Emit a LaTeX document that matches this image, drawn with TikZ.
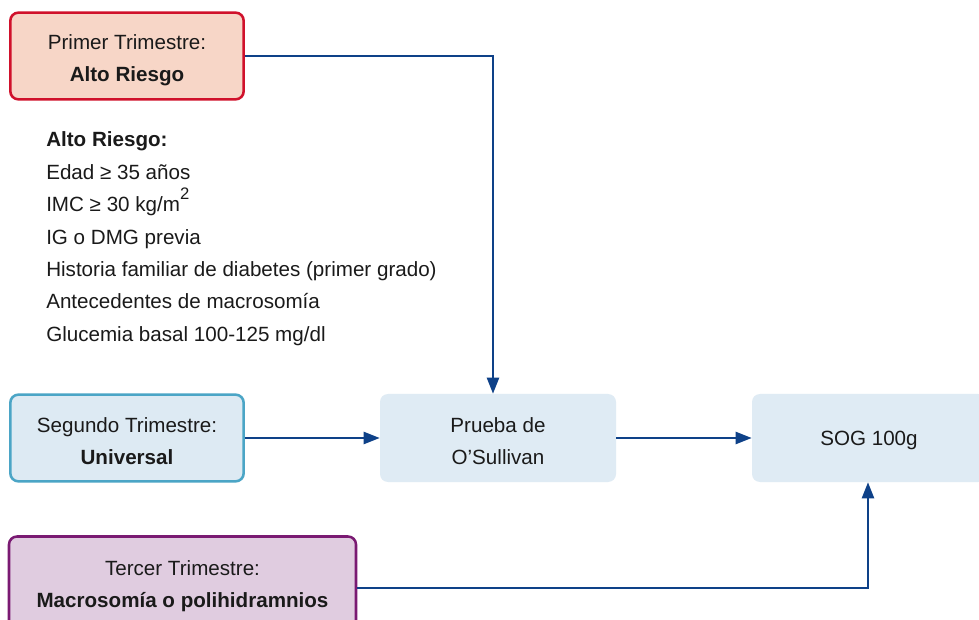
\documentclass[tikz,border=0pt]{standalone}
\usepackage{fontspec}
\setmainfont{Liberation Sans}
\usetikzlibrary{arrows.meta}
\definecolor{arrblue}{HTML}{0E4188}
\definecolor{redb}{HTML}{D0112B}
\definecolor{redf}{HTML}{F7D6C7}
\definecolor{cyanb}{HTML}{4BA5C6}
\definecolor{cyanf}{HTML}{DDEAF3}
\definecolor{boxf}{HTML}{DFEBF4}
\definecolor{purb}{HTML}{7A1A72}
\definecolor{purf}{HTML}{E0CCE0}
\definecolor{txt}{HTML}{1A1A1A}
\newcommand{\topstrut}{\rule{0pt}{15.8pt}}
\tikzset{
  box/.style={rectangle, rounded corners=6pt, minimum width=175pt, minimum height=65pt,
    inner sep=0pt, align=center, text=txt,
    font=\fontsize{15.45}{24}\selectfont},
  redbox/.style={box, draw=redb, fill=redf, line width=1.9pt},
  cyanbox/.style={box, draw=cyanb, fill=cyanf, line width=1.9pt},
  purbox/.style={box, draw=purb, fill=purf, line width=1.9pt},
  plainbox/.style={box, fill=boxf, minimum width=177pt, minimum height=66pt},
  listline/.style={anchor=base west, inner sep=0pt, text=txt, font=\fontsize{15.45}{24}\selectfont},
  arr/.style={draw=arrblue, line width=1.7pt, -{Triangle[length=12pt, width=9pt]}},
}
\begin{document}
\begin{tikzpicture}[x=0.75pt, y=-0.75pt]
\clip (0,0) rectangle (979,620);
\fill[white] (0,0) rectangle (979,620);
% boxes
\node[redbox] (b1) at (127,56) {\rule{0pt}{16.8pt}Primer Trimestre:\\\textbf{Alto Riesgo}};
\node[cyanbox] (b2) at (127,438) {\topstrut Segundo Trimestre:\\\textbf{Universal}};
\node[purbox, minimum width=347pt*0.75, minimum height=93pt*0.75] (b3) at (182.5,583) {\topstrut Tercer Trimestre:\\\textbf{Macrosomía o polihidramnios}};
\node[plainbox] (pr) at (498,438) {\topstrut Prueba de\\O’Sullivan};
\node[plainbox, minimum width=234pt*0.75] (sog) at (869,438) {\rule{0pt}{14.5pt}SOG 100g};
% list
\node[listline] (l0) at (46,147) {\textbf{Alto Riesgo:}};
\node[listline] (l1) at (46,179.4) {Edad ≥ 35 años};
\node[listline] (l2) at (46,211.8) {IMC ≥ 30 kg/m\raisebox{9pt}{\fontsize{12.5}{12}\selectfont 2}};
\node[listline] (l3) at (46,244.2) {IG o DMG previa};
\node[listline] (l4) at (46,276.6) {Historia familiar de diabetes (primer grado)};
\node[listline] (l5) at (46,309) {Antecedentes de macrosomía};
\node[listline] (l6) at (46,341.4) {Glucemia basal 100-125 mg/dl};
% connectors
\draw[arr] (b1.east) -| ([xshift=-3.75pt]pr.north);
\draw[arr] (b2.east) -- (pr.west);
\draw[arr] (pr.east) -- (sog.west);
\draw[arr] ([yshift=-3.75pt]b3.east) -| ([xshift=-0.75pt]sog.south);
\end{tikzpicture}
\end{document}
